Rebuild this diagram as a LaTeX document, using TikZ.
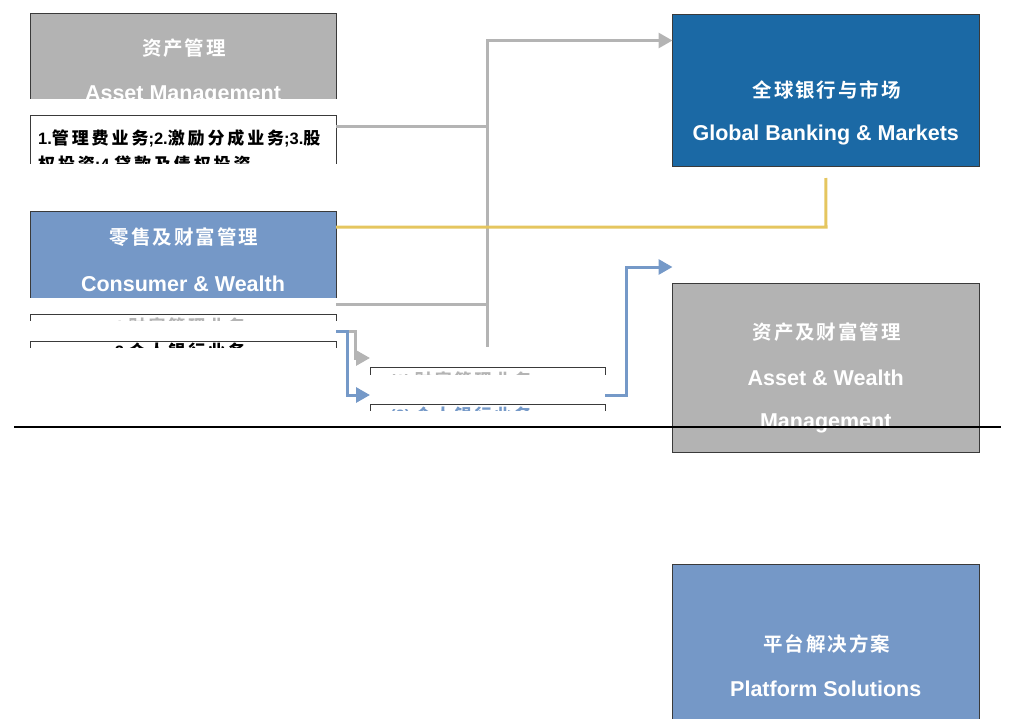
\documentclass[tikz,border=0pt]{standalone}
\usepackage{fontspec}
\setmainfont{Liberation Sans}
\newfontfamily\cjkw[LetterSpace=10]{Noto Sans CJK SC Bold}
\newfontfamily\cjks[LetterSpace=17]{Noto Sans CJK SC Bold}
\newcommand{\zs}[1]{{\cjks\fontsize{17}{26}\selectfont #1}}
\usetikzlibrary{arrows.meta}
\definecolor{boxgray}{HTML}{B3B3B3}
\definecolor{boxblue}{HTML}{7598C7}
\definecolor{boxdark}{HTML}{1B69A5}
\definecolor{linegray}{HTML}{B4B4B4}
\definecolor{lineblue}{HTML}{7599C8}
\definecolor{lineyellow}{HTML}{E5C65F}
\definecolor{bordergray}{HTML}{3A3A3A}
\tikzset{
  box/.style={rectangle, draw=bordergray, line width=0.9pt, inner sep=0pt, outer sep=0pt},
  wzh/.style={text=white, inner sep=0pt, anchor=base, font=\fontsize{19.5}{22}\selectfont\cjkw},
  wen/.style={text=white, inner sep=0pt, anchor=base, font=\fontsize{21.5}{24}\selectfont\bfseries},
  stxt/.style={inner sep=0pt, font=\fontsize{16.5}{19}\selectfont\bfseries},
  gline/.style={draw=linegray, line width=3pt},
  bline/.style={draw=lineblue, line width=3pt},
  yline/.style={draw=lineyellow, line width=3pt},
  tip/.style={-{Triangle[length=14pt,width=15pt]}},
}
\begin{document}
\begin{tikzpicture}[x=1pt,y=-1pt]
\useasboundingbox (0,0) rectangle (1010,718);

% ---- left column, clipped boxes ----
\begin{scope}
  \clip (0,0) rectangle (1010,98);
  \node[box, fill=boxgray, minimum width=306pt, minimum height=107pt] (am) at (183,66.5) {};
  \node[wzh] (amzh) at (184,55) {资产管理};
  \node[wen] (amen) at (183,100.5) {Asset Management};
\end{scope}

\begin{scope}
  \clip (0,0) rectangle (1010,163.5);
  \node[box, fill=white, minimum width=306pt, minimum height=85pt] (desc) at (183,157.5) {};
  \node[stxt, anchor=base west, align=left, font=\fontsize{16.5}{26}\selectfont\bfseries] (desctxt) at (38,170)
    {1.\zs{管理费业务};2.\zs{激励分成业务};3.\zs{股}\\\zs{权投资};4.\zs{贷款及债权投资}};
\end{scope}

\begin{scope}
  \clip (0,0) rectangle (1010,297);
  \node[box, fill=boxblue, minimum width=306pt, minimum height=109pt] (cw) at (183,265.5) {};
  \node[wzh] (cwzh) at (184,244) {零售及财富管理};
  \node[wen] (cwen) at (183,291) {Consumer \& Wealth};
\end{scope}

\begin{scope}
  \clip (0,0) rectangle (1010,320);
  \node[box, fill=white, minimum width=306pt, minimum height=26pt] (s1) at (183,327) {};
  \node[stxt, anchor=base, text=linegray] (s1txt) at (180,332) {1.\zs{财富管理业务}};
\end{scope}

\begin{scope}
  \clip (0,0) rectangle (1010,347);
  \node[box, fill=white, minimum width=306pt, minimum height=29pt] (s2) at (183,355.5) {};
  \node[stxt, anchor=base] (s2txt) at (180,357) {2.\zs{个人银行业务}};
\end{scope}

% ---- middle small boxes ----
\begin{scope}
  \clip (0,0) rectangle (1010,374);
  \node[box, fill=white, minimum width=235pt, minimum height=22pt] (b3) at (487.5,378.5) {};
  \node[stxt, anchor=base west, text=linegray] (b3txt) at (390,386) {(1) \zs{财富管理业务}};
\end{scope}

\begin{scope}
  \clip (0,0) rectangle (1010,410);
  \node[box, fill=white, minimum width=235pt, minimum height=25pt] (b4) at (487.5,417) {};
  \node[stxt, anchor=base west, text=lineblue] (b4txt) at (390,421) {(2) \zs{个人银行业务}};
\end{scope}

% ---- right column ----
\node[box, fill=boxdark, minimum width=306.5pt, minimum height=152.5pt] (gbm) at (825.75,90.25) {};
\node[wzh] (gbmzh) at (826.75,97) {全球银行与市场};
\node[wen] (gbmen) at (825.75,140) {Global Banking \& Markets};

\node[box, fill=boxgray, minimum width=306.5pt, minimum height=169.5pt] (awm) at (825.75,367.75) {};
\node[wzh] (awmzh) at (826.75,339) {资产及财富管理};
\node[wen] (awmen1) at (825.75,385) {Asset \& Wealth};
\node[wen] (awmen2) at (825.75,428) {Management};

\node[box, fill=boxblue, minimum width=306.5pt, minimum height=175pt] (ps) at (825.75,652) {};
\node[wzh] (pszh) at (826.75,651) {平台解决方案};
\node[wen] (psen) at (825.75,696) {Platform Solutions};

% ---- connectors ----
\coordinate (j1) at (487.5,126);
\coordinate (j2) at (487.5,304);
\coordinate (jt) at (487.5,40.5);
\coordinate (jb) at (487.5,346.5);
\draw[gline] (desc.east |- j1) -- (j1);
\draw[gline] (cw.east |- j2) -- (j2);
\draw[gline, tip] (jb) -- (jt) -- (gbm.west |- jt);

\coordinate (y1) at (826,227);
\draw[yline] (cw.east |- y1) -- (y1) -- ([yshift=-11.5pt]gbm.south);

\coordinate (g1) at (355,331);
\coordinate (g2) at (355,358);
\draw[gline, tip, line join=miter] (s2.east |- g1) -- (g1) -- (g2) -- (b3.west |- g2);

\coordinate (l1) at (347,331);
\coordinate (l2) at (347,395);
\draw[bline, tip, line join=miter] (s2.east |- l1) -- (l1) -- (l2) -- (b4.west |- l2);

\coordinate (r1) at (626,395);
\coordinate (r2) at (626,267);
\draw[bline, tip, line join=miter] (b4.east |- r1) -- (r1) -- (r2) -- (awm.west |- r2);

% ---- separator line ----
\coordinate (h1) at (14,427);
\coordinate (h2) at (1001,427);
\draw[line width=2pt, black] (h1) -- (h2);
\end{tikzpicture}
\end{document}
